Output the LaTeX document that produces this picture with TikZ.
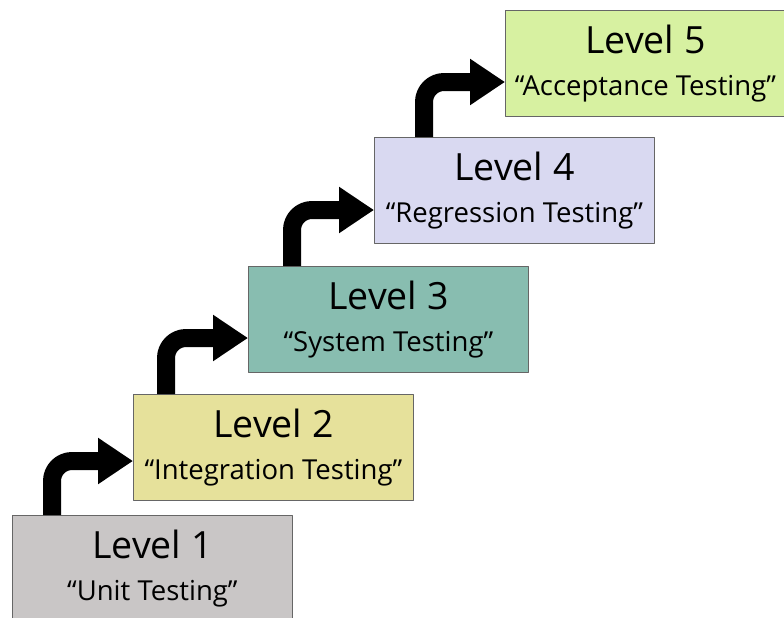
\documentclass[tikz,border=0pt]{standalone}
\usepackage{fontspec}
\setmainfont{Open Sans}
\usetikzlibrary{arrows.meta}
\definecolor{lvlone}{HTML}{C9C6C6}
\definecolor{lvltwo}{HTML}{E6E19B}
\definecolor{lvlthree}{HTML}{88BDB0}
\definecolor{lvlfour}{HTML}{D9D9F1}
\definecolor{lvlfive}{HTML}{D7F1A1}
\newcommand{\subfont}{\fontsize{27.5}{42}\selectfont}
\begin{document}
\begin{tikzpicture}[x=1pt,y=-1pt,line join=round]
    \tikzset{lvl/.style={draw=black!60,line width=0.8pt,anchor=north west,minimum width=280pt,minimum height=106pt,inner sep=0pt,align=center,font=\fontsize{37.5}{42}\selectfont},
        stair/.style={line width=18pt,rounded corners=20pt,-{Triangle[length=35pt,width=44pt]}}}
    \useasboundingbox (0,0) rectangle (784,618);

    \node[lvl,fill=lvlone](L1) at (12,515){Level 1\\{\subfont “Unit Testing”}};
    \node[lvl,fill=lvltwo](L2) at (133,394){Level 2\\{\subfont “Integration Testing”}};
    \node[lvl,fill=lvlthree](L3) at (248,266){Level 3\\{\subfont “System Testing”}};
    \node[lvl,fill=lvlfour](L4) at (374,137){Level 4\\{\subfont “Regression Testing”}};
    \node[lvl,fill=lvlfive](L5) at (505,10){Level 5\\{\subfont “Acceptance Testing”}};

    % steps between levels
    \foreach \a/\b/\dx/\dy in {L1/L2/40/67,L2/L3/33/72,L3/L4/44/73,L4/L5/50/72}{
        \draw[stair] ([xshift=\dx pt]\a.north west) |- ([yshift=-\dy pt]\b.north west);}
\end{tikzpicture}
\end{document}
